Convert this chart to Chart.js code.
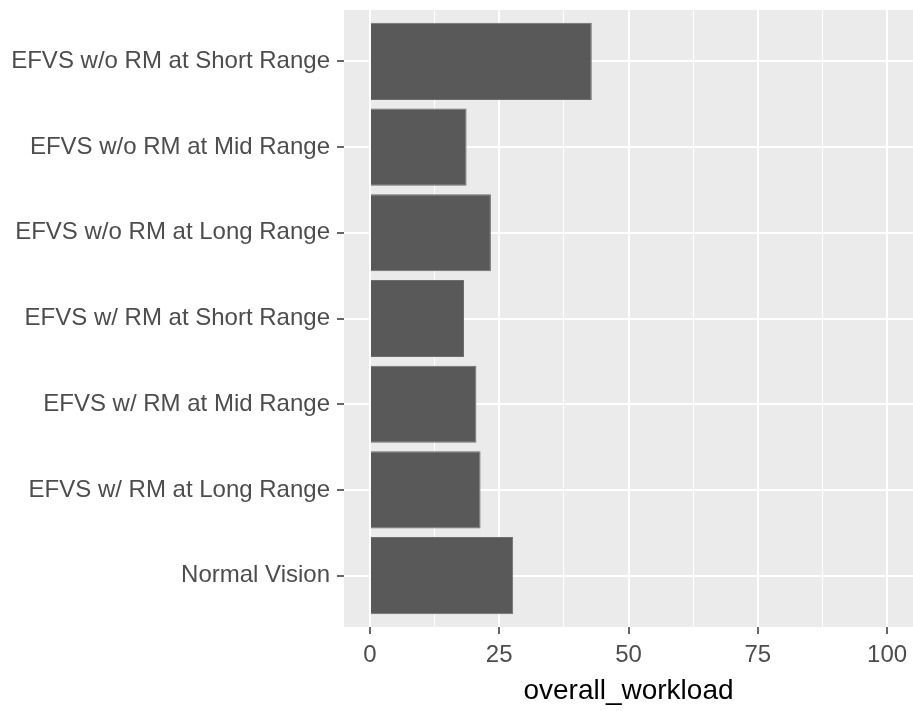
<!DOCTYPE html>
<html>
<head>
<meta charset="utf-8">
<script src="https://cdn.jsdelivr.net/npm/chart.js@4"></script>
<style>
  html, body { margin: 0; padding: 0; background: #fff; }
  #wrap { width: 913px; height: 711px; }
</style>
</head>
<body>
<div id="wrap"><canvas id="workload"></canvas></div>
<script>
// conditions, top to bottom
const categories = [
    'EFVS w/o RM at Short Range',
    'EFVS w/o RM at Mid Range',
    'EFVS w/o RM at Long Range',
    'EFVS w/ RM at Short Range',
    'EFVS w/ RM at Mid Range',
    'EFVS w/ RM at Long Range',
    'Normal Vision'
];
const overallWorkload = [42.9, 18.7, 23.4, 18.2, 20.6, 21.4, 27.7];
const xMajorTicks = [0, 25, 50, 75, 100];
const xMinorTicks = [12.5, 37.5, 62.5, 87.5];

const isMajor = v => xMajorTicks.includes(v);

// grey panel behind the grid
const panelBg = {
    id: 'panelBg',
    beforeDraw(chart) {
        const a = chart.chartArea;
        const c = chart.ctx;
        c.save();
        c.fillStyle = '#EBEBEB';
        c.fillRect(a.left, a.top, a.right - a.left, a.bottom - a.top);
        c.restore();
    }
};

const ctx = document.getElementById('workload').getContext('2d');

const workloadChart = new Chart(ctx, {
    type: 'bar',
    data: {
        datasets: [{
            label: 'overall_workload',
            data: categories.map((c, i) => ({ x: overallWorkload[i], y: i })),
            backgroundColor: '#595959',
            borderColor: '#6E6E6E',
            borderWidth: 1,
            barPercentage: 0.9,
            categoryPercentage: 1
        }]
    },
    options: {
        indexAxis: 'y',
        responsive: true,
        maintainAspectRatio: false,
        animation: false,
        layout: { padding: { top: 10, right: 0, bottom: 0, left: 0 } },
        scales: {
            x: {
                type: 'linear',
                min: -5,
                max: 105,
                afterBuildTicks: s => {
                    s.ticks = [...xMajorTicks, ...xMinorTicks]
                        .sort((a, b) => a - b)
                        .map(v => ({ value: v }));
                },
                afterFit: s => {
                    s.height = 84;
                    s.paddingLeft = 0;
                    s.paddingRight = 0;
                },
                ticks: {
                    autoSkip: false,
                    maxRotation: 0,
                    padding: 7,
                    color: '#4D4D4D',
                    font: { family: 'Liberation Sans, Arial, sans-serif', size: 24 },
                    callback: v => isMajor(v) ? v : ''
                },
                grid: {
                    color: '#FFFFFF',
                    lineWidth: c => isMajor(c.tick.value) ? 2 : 1,
                    tickLength: 7,
                    tickWidth: 1.5,
                    tickColor: c => isMajor(c.tick.value) ? '#333333' : 'rgba(0,0,0,0)'
                },
                border: { display: false },
                title: {
                    display: true,
                    text: 'overall_workload',
                    color: '#000000',
                    padding: { top: 0, bottom: 3 },
                    font: { family: 'Liberation Sans, Arial, sans-serif', size: 28 }
                }
            },
            y: {
                type: 'linear',
                min: -0.6,
                max: 6.6,
                reverse: true,
                offset: false,
                afterBuildTicks: s => {
                    s.ticks = categories.map((c, i) => ({ value: i }));
                },
                afterFit: s => {
                    s.width = 344;
                    s.paddingTop = 0;
                    s.paddingBottom = 0;
                },
                ticks: {
                    autoSkip: false,
                    padding: 7,
                    color: '#4D4D4D',
                    font: { family: 'Liberation Sans, Arial, sans-serif', size: 24 },
                    callback: v => categories[v]
                },
                grid: {
                    offset: false,
                    color: '#FFFFFF',
                    lineWidth: 2,
                    tickLength: 7,
                    tickWidth: 1.5,
                    tickColor: '#333333'
                },
                border: { display: false }
            }
        },
        plugins: {
            legend: { display: false },
            title: { display: false },
            tooltip: { enabled: false }
        }
    },
    plugins: [panelBg]
});
</script>
</body>
</html>
